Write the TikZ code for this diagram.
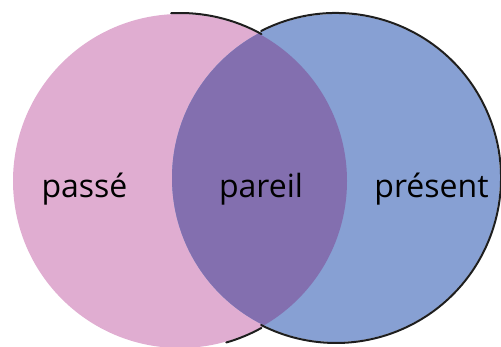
\documentclass[tikz,border=0pt]{standalone}
\usepackage{fontspec}
\setmainfont{Open Sans}
\definecolor{pastc}{RGB}{224,173,209}
\definecolor{presc}{RGB}{135,160,211}
\definecolor{samec}{RGB}{131,111,175}
\definecolor{inkc}{RGB}{30,30,30}
\tikzset{
  rim/.style={draw=inkc, line width=2pt, line cap=round},
  label/.style={anchor=base, text=black, font=\fontsize{32}{38}\selectfont, inner sep=0pt}
}
\begin{document}
\begin{tikzpicture}[x=1pt,y=1pt]
\useasboundingbox (0,0) rectangle (501,347);
\clip (0,0) rectangle (501,347);
\coordinate (cpast) at (180,166);
\coordinate (cpres) at (336,169);
\fill[pastc] (cpast) circle (167);
\fill[presc] (cpres) circle (164);
\begin{scope}
  \clip (cpast) circle (167);
  \fill[samec] (cpres) circle (164);
\end{scope}
\draw[rim] ([shift={(93:168)}]cpast) arc (93:61:168);
\draw[rim] ([shift={(117:165)}]cpres) arc (117:-117:165);
\draw[rim] ([shift={(-74:168)}]cpast) arc (-74:-61:168);
\node[label] (past) at (84.5,149) {passé};
\node[label] (same) at (261,149) {pareil};
\node[label] (pres) at (431.5,149) {présent};
\end{tikzpicture}
\end{document}
